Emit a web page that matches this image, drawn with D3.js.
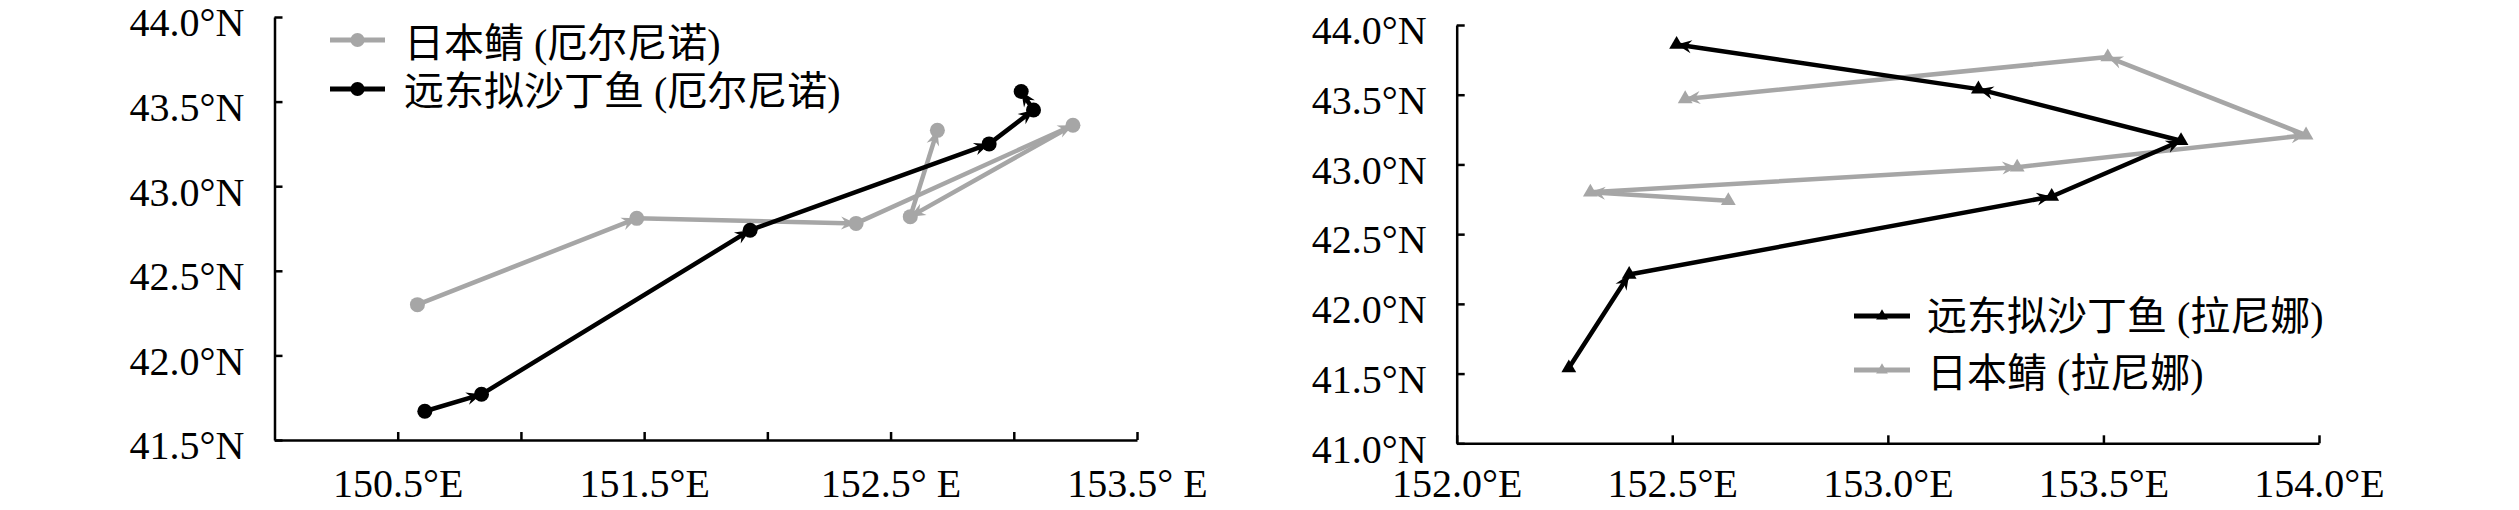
<!DOCTYPE html>
<html>
<head>
<meta charset="utf-8">
<script src="https://cdn.jsdelivr.net/npm/d3@7/dist/d3.min.js"></script>
<style>
  html, body { margin: 0; padding: 0; background: #fff; }
  svg { display: block; }
  text { font-family: "Liberation Serif", "Noto Sans CJK SC", serif; fill: #000; }
</style>
</head>
<body>
<svg id="chart" width="2519" height="510"></svg>
<script>
// ---------- DATA ----------
// Left panel (El Niño)
const elninoMackerelLon = [150.58, 151.47, 152.36, 153.24, 152.58, 152.69];
const elninoMackerelLat = [42.30, 42.81, 42.78, 43.36, 42.82, 43.33];
const elninoSardineLon  = [150.61, 150.84, 151.93, 152.90, 153.08, 153.03];
const elninoSardineLat  = [41.67, 41.77, 42.74, 43.25, 43.45, 43.56];
// Right panel (La Niña)
const laninaSardineLon  = [152.26, 152.40, 153.38, 153.68, 153.21, 152.51];
const laninaSardineLat  = [41.54, 42.21, 42.77, 43.17, 43.54, 43.86];
const laninaMackerelLon = [152.63, 152.31, 153.30, 153.97, 153.51, 152.53];
const laninaMackerelLat = [42.74, 42.80, 42.98, 43.21, 43.77, 43.47];

// Tick values and labels
const leftXTicks  = [150.5, 151.0, 151.5, 152.0, 152.5, 153.0, 153.5];
const leftXLabels = ["150.5°E", "", "151.5°E", "", "152.5° E", "", "153.5° E"];
const leftYTicks  = [41.5, 42.0, 42.5, 43.0, 43.5, 44.0];
const leftYLabels = ["41.5°N", "42.0°N", "42.5°N", "43.0°N", "43.5°N", "44.0°N"];
const rightXTicks  = [152.0, 152.5, 153.0, 153.5, 154.0];
const rightXLabels = ["152.0°E", "152.5°E", "153.0°E", "153.5°E", "154.0°E"];
const rightYTicks  = [41.0, 41.5, 42.0, 42.5, 43.0, 43.5, 44.0];
const rightYLabels = ["41.0°N", "41.5°N", "42.0°N", "42.5°N", "43.0°N", "43.5°N", "44.0°N"];

// Legend labels
const leftLegend  = ["日本鲭 (厄尔尼诺)", "远东拟沙丁鱼 (厄尔尼诺)"];
const rightLegend = ["远东拟沙丁鱼 (拉尼娜)", "日本鲭 (拉尼娜)"];

// ---------- STYLE ----------
const GRAY = "#a6a6a6";
const BLACK = "#000000";

const svg = d3.select("#chart");
const defs = svg.append("defs");
function arrowMarker(id, color) {
  defs.append("marker")
    .attr("id", id)
    .attr("markerUnits", "userSpaceOnUse")
    .attr("viewBox", "-16 -8 18 16")
    .attr("refX", 0).attr("refY", 0)
    .attr("markerWidth", 18).attr("markerHeight", 16)
    .attr("orient", "auto")
    .append("path")
    .attr("d", "M0,0 L-15,-6.5 L-10,0 L-15,6.5 Z")
    .attr("fill", color);
}
arrowMarker("arrGray", GRAY);
arrowMarker("arrBlack", BLACK);

function drawPanel(cfg) {
  const g = svg.append("g");
  const x = d3.scaleLinear().domain(cfg.xDomain).range(cfg.xRange);
  const y = d3.scaleLinear().domain(cfg.yDomain).range(cfg.yRange);

  // x axis
  const xAxis = d3.axisBottom(x)
    .tickValues(cfg.xTicks)
    .tickFormat((d, i) => cfg.xLabels[i])
    .tickSizeInner(-8).tickSizeOuter(0).tickPadding(0);
  const gx = g.append("g").attr("transform", `translate(0,${cfg.yRange[0]})`).call(xAxis);
  gx.selectAll("path.domain").attr("stroke", "#000").attr("stroke-width", 2.5);
  gx.selectAll(".tick line").attr("stroke", "#000").attr("stroke-width", 2.5);
  gx.selectAll(".tick text")
    .attr("y", cfg.xLabelBaseline).attr("dy", null)
    .attr("font-size", 40).attr("font-family", '"Liberation Serif", serif');

  // y axis
  const yAxis = d3.axisLeft(y)
    .tickValues(cfg.yTicks)
    .tickFormat((d, i) => cfg.yLabels[i])
    .tickSizeInner(-8).tickSizeOuter(0).tickPadding(30);
  const gy = g.append("g").attr("transform", `translate(${cfg.xRange[0]},0)`).call(yAxis);
  gy.selectAll("path.domain").attr("stroke", "#000").attr("stroke-width", 2.5);
  gy.selectAll(".tick line").attr("stroke", "#000").attr("stroke-width", 2.5);
  gy.selectAll(".tick text")
    .attr("x", -30).attr("dy", "0.47em")
    .attr("font-size", 40).attr("font-family", '"Liberation Serif", serif');
  g.selectAll(".domain, .tick").attr("font-family", null);

  // series
  cfg.series.forEach(s => {
    const pts = s.lon.map((lo, i) => [x(lo), y(s.lat[i])]);
    const sg = g.append("g");
    const segs = d3.pairs(pts);
    sg.selectAll("line.seg").data(segs).join("line")
      .attr("class", "seg")
      .attr("x1", d => d[0][0]).attr("y1", d => d[0][1])
      .attr("x2", d => d[1][0]).attr("y2", d => d[1][1])
      .attr("stroke", s.color).attr("stroke-width", s.width)
      .attr("stroke-linecap", "round")
      .attr("marker-end", `url(#${s.arrow})`);
    if (s.marker === "circle") {
      sg.selectAll("circle").data(pts).join("circle")
        .attr("cx", d => d[0]).attr("cy", d => d[1]).attr("r", 7.5)
        .attr("fill", s.color);
    } else {
      const tri = d3.symbol(d3.symbolTriangle, 95)();
      sg.selectAll("path.m").data(pts).join("path")
        .attr("class", "m").attr("d", tri)
        .attr("transform", d => `translate(${d[0]},${d[1]})`)
        .attr("fill", s.color);
    }
  });

  // legend
  cfg.legend.forEach((L, i) => {
    const lg = g.append("g");
    lg.append("line")
      .attr("x1", L.x0).attr("x2", L.x1).attr("y1", L.y).attr("y2", L.y)
      .attr("stroke", L.color).attr("stroke-width", 5);
    const mx = (L.x0 + L.x1) / 2;
    if (L.marker === "circle") {
      lg.append("circle").attr("cx", mx).attr("cy", L.y).attr("r", 7).attr("fill", L.color);
    } else {
      lg.append("path").attr("d", d3.symbol(d3.symbolTriangle, 60)())
        .attr("transform", `translate(${mx},${L.y})`).attr("fill", L.color);
    }
    lg.append("text")
      .attr("x", L.tx).attr("y", L.ty)
      .attr("font-size", 40)
      .text(L.label);
  });
}

drawPanel({
  xDomain: [150.0, 153.5], xRange: [274.5, 1137],
  yDomain: [41.5, 44.0],  yRange: [440, 17],
  xTicks: leftXTicks, xLabels: leftXLabels, xLabelBaseline: 57,
  yTicks: leftYTicks, yLabels: leftYLabels,
  series: [
    { lon: elninoMackerelLon, lat: elninoMackerelLat, color: GRAY, width: 4.5, arrow: "arrGray", marker: "circle" },
    { lon: elninoSardineLon,  lat: elninoSardineLat,  color: BLACK, width: 4.5, arrow: "arrBlack", marker: "circle" }
  ],
  legend: [
    { label: leftLegend[0], color: GRAY,  marker: "circle", x0: 330, x1: 385, y: 40, tx: 404, ty: 57 },
    { label: leftLegend[1], color: BLACK, marker: "circle", x0: 330, x1: 385, y: 89, tx: 404, ty: 105 }
  ]
});

drawPanel({
  xDomain: [152.0, 154.0], xRange: [1456.7, 2319],
  yDomain: [41.0, 44.0],  yRange: [443.3, 25],
  xTicks: rightXTicks, xLabels: rightXLabels, xLabelBaseline: 54,
  yTicks: rightYTicks, yLabels: rightYLabels,
  series: [
    { lon: laninaMackerelLon, lat: laninaMackerelLat, color: GRAY, width: 4.5, arrow: "arrGray", marker: "triangle" },
    { lon: laninaSardineLon,  lat: laninaSardineLat,  color: BLACK, width: 4.5, arrow: "arrBlack", marker: "triangle" }
  ],
  legend: [
    { label: rightLegend[0], color: BLACK, marker: "triangle", x0: 1854, x1: 1910, y: 316, tx: 1927, ty: 330 },
    { label: rightLegend[1], color: GRAY,  marker: "triangle", x0: 1854, x1: 1910, y: 370, tx: 1927, ty: 387 }
  ]
});
</script>
</body>
</html>
